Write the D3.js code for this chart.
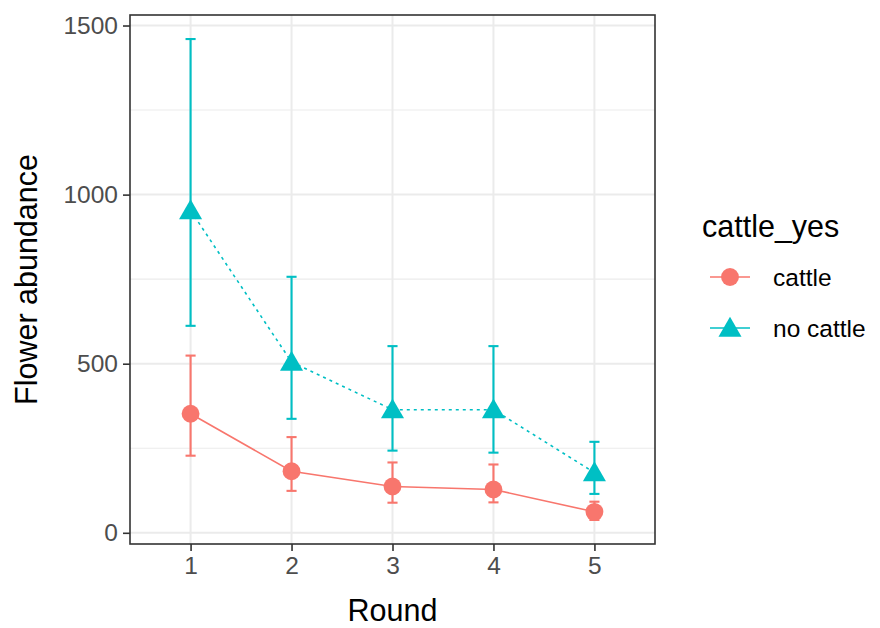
<!DOCTYPE html>
<html>
<head>
<meta charset="utf-8">
<script src="https://d3js.org/d3.v7.min.js"></script>
<style>
  body { margin: 0; background: #fff; font-family: Arial, 'Liberation Sans', sans-serif; }
</style>
</head>
<body>
<script>
// data
var rounds = [1, 2, 3, 4, 5];
var groups = ["cattle", "no cattle"];
var cattleMean  = [352, 182, 137, 128, 62];
var cattleLow   = [228, 124, 89, 90, 38];
var cattleHigh  = [524, 283, 208, 202, 92];
var noCattleMean = [953, 505, 364, 364, 178];
var noCattleLow  = [612, 337, 243, 237, 115];
var noCattleHigh = [1460, 757, 552, 552, 269];
var yTicks = [0, 500, 1000, 1500];
var yMinor = [250, 750, 1250];

var colours = {"cattle": "#F8766D", "no cattle": "#00BFC4"};

var series = [
  {name: groups[0], mean: cattleMean, lo: cattleLow, hi: cattleHigh, dash: null, shape: d3.symbolCircle},
  {name: groups[1], mean: noCattleMean, lo: noCattleLow, hi: noCattleHigh, dash: "3,4", shape: d3.symbolTriangle}
];

var W = 880, H = 628,
    pLeft = 130, pRight = 655, pTop = 15, pBottom = 544;

function symSize(shape){ return shape === d3.symbolCircle ? 250 : 230; }

var svg = d3.select("body").append("svg")
  .attr("width", W)
  .attr("height", H);

// discrete x axis, ggplot style padding of 0.6
var x = d3.scaleLinear().domain([0.4, 5.6]).range([pLeft, pRight]);

var allVals = cattleLow.concat(cattleHigh, noCattleLow, noCattleHigh);
var ymin = d3.min(allVals), ymax = d3.max(allVals), pad = (ymax - ymin) * 0.05;
var y = d3.scaleLinear().domain([ymin - pad, ymax + pad]).range([pBottom, pTop]);

// grid
var grid = svg.append("g");
grid.selectAll("line.minor").data(yMinor).enter().append("line")
  .attr("x1", pLeft).attr("x2", pRight)
  .attr("y1", function(d){ return y(d); }).attr("y2", function(d){ return y(d); })
  .attr("stroke", "#EBEBEB").attr("stroke-width", 1.1);
grid.selectAll("line.major").data(yTicks).enter().append("line")
  .attr("x1", pLeft).attr("x2", pRight)
  .attr("y1", function(d){ return y(d); }).attr("y2", function(d){ return y(d); })
  .attr("stroke", "#EBEBEB").attr("stroke-width", 2);
grid.selectAll("line.vx").data(rounds).enter().append("line")
  .attr("y1", pTop).attr("y2", pBottom)
  .attr("x1", function(d){ return x(d); }).attr("x2", function(d){ return x(d); })
  .attr("stroke", "#EBEBEB").attr("stroke-width", 2);

// lines, error bars, points
series.forEach(function(s){
  var col = colours[s.name];
  var g = svg.append("g");
  var line = d3.line()
    .x(function(d, i){ return x(rounds[i]); })
    .y(function(d){ return y(d); });
  g.append("path")
    .attr("d", line(s.mean))
    .attr("fill", "none")
    .attr("stroke", col)
    .attr("stroke-width", 1.6)
    .attr("stroke-dasharray", s.dash);

  var bars = g.selectAll("g.bar").data(rounds).enter().append("g")
    .attr("stroke", col).attr("stroke-width", 2.1);
  bars.append("line")
    .attr("x1", function(d){ return x(d); }).attr("x2", function(d){ return x(d); })
    .attr("y1", function(d, i){ return y(s.lo[i]); })
    .attr("y2", function(d, i){ return y(s.hi[i]); });
  bars.append("line")
    .attr("x1", function(d){ return x(d - 0.05); }).attr("x2", function(d){ return x(d + 0.05); })
    .attr("y1", function(d, i){ return y(s.lo[i]); })
    .attr("y2", function(d, i){ return y(s.lo[i]); });
  bars.append("line")
    .attr("x1", function(d){ return x(d - 0.05); }).attr("x2", function(d){ return x(d + 0.05); })
    .attr("y1", function(d, i){ return y(s.hi[i]); })
    .attr("y2", function(d, i){ return y(s.hi[i]); });

  var sym = d3.symbol().type(s.shape).size(symSize(s.shape));
  g.selectAll("path.pt").data(rounds).enter().append("path")
    .attr("d", sym)
    .attr("transform", function(d, i){
      var off = s.shape === d3.symbolTriangle ? 2 : 0;
      return "translate(" + x(d) + "," + (y(s.mean[i]) + off) + ")";
    })
    .attr("fill", col);
});

// panel border
svg.append("rect")
  .attr("x", pLeft).attr("y", pTop)
  .attr("width", pRight - pLeft).attr("height", pBottom - pTop)
  .attr("fill", "none").attr("stroke", "#333333").attr("stroke-width", 1.6);

// axes
var yAxis = svg.append("g").attr("transform", "translate(" + pLeft + ",0)")
  .call(d3.axisLeft(y).tickValues(yTicks).tickSize(7).tickPadding(5).tickFormat(d3.format("d")));
var xAxis = svg.append("g").attr("transform", "translate(0," + pBottom + ")")
  .call(d3.axisBottom(x).tickValues(rounds).tickSize(7).tickPadding(6).tickFormat(d3.format("d")));
[xAxis, yAxis].forEach(function(a){
  a.select(".domain").remove();
  a.selectAll(".tick line").attr("stroke", "#333333").attr("stroke-width", 1.6);
  a.selectAll(".tick text")
    .attr("fill", "#4D4D4D")
    .style("font-size", "24.5px")
    .style("font-family", "Arial, 'Liberation Sans', sans-serif");
});

// axis titles
svg.append("text")
  .attr("x", (pLeft + pRight) / 2).attr("y", 621)
  .attr("text-anchor", "middle")
  .style("font-size", "30.5px")
  .text("Round");
svg.append("text")
  .attr("transform", "translate(37," + ((pTop + pBottom) / 2) + ") rotate(-90)")
  .attr("text-anchor", "middle")
  .style("font-size", "30.5px")
  .text("Flower abundance");

// legend
var lg = svg.append("g");
lg.append("text")
  .attr("x", 702).attr("y", 237)
  .style("font-size", "30.5px")
  .text("cattle_yes");
var keys = lg.selectAll("g.key").data(series).enter().append("g")
  .attr("transform", function(d, i){ return "translate(0," + (277 + i * 51) + ")"; });
keys.append("line")
  .attr("x1", 710).attr("x2", 750)
  .attr("stroke", function(d){ return colours[d.name]; })
  .attr("stroke-width", 1.6);
keys.append("path")
  .attr("d", function(d){ return d3.symbol().type(d.shape).size(symSize(d.shape))(); })
  .attr("transform", function(d){ return "translate(730," + (d.shape === d3.symbolTriangle ? 2 : 0) + ")"; })
  .attr("fill", function(d){ return colours[d.name]; });
keys.append("text")
  .attr("x", 773).attr("y", 9)
  .style("font-size", "24.5px")
  .attr("fill", "#000")
  .text(function(d){ return d.name; });
</script>
</body>
</html>
